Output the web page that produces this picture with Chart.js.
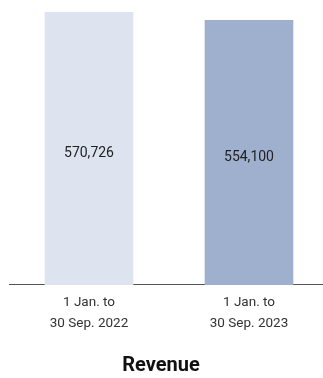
<!DOCTYPE html>
<html>
<head>
<meta charset="utf-8">
<script src="https://cdn.jsdelivr.net/npm/chart.js@4"></script>
<style>
html,body{margin:0;padding:0;background:#fff;overflow:hidden;width:323px;height:378px;}
#wrap{width:323px;height:378px;position:relative;overflow:hidden;}
#c{position:absolute;left:-7px;top:0;}
</style>
</head>
<body>
<div id="wrap"><canvas id="c" width="336" height="378"></canvas></div>
<script>
const categories = [["1 Jan. to","30 Sep. 2022"],["1 Jan. to","30 Sep. 2023"]];
const revenue = [570726, 554100];
const barColors = ["#dee4ef", "#9fb0ce"];
const chartTitle = "Revenue";

const valueLabels = {
  id: 'valueLabels',
  afterDatasetsDraw(chart) {
    const ctx = chart.ctx;
    const meta = chart.getDatasetMeta(0);
    ctx.save();
    ctx.font = '14px Roboto';
    ctx.fillStyle = '#222';
    ctx.textAlign = 'center';
    ctx.textBaseline = 'middle';
    meta.data.forEach((bar, i) => {
      const mid = (bar.y + bar.base) / 2 + 4.5;
      ctx.fillText(revenue[i].toLocaleString('en-US'), bar.x, mid);
    });
    ctx.restore();
  }
};

new Chart(document.getElementById('c'), {
  type: 'bar',
  data: {
    labels: categories,
    datasets: [{
      data: revenue,
      backgroundColor: barColors,
      borderWidth: 0,
      barPercentage: 0.554,
      categoryPercentage: 1
    }]
  },
  options: {
    responsive: false,
    animation: false,
    devicePixelRatio: 1,
    layout: { padding: 0 },
    plugins: {
      legend: { display: false },
      tooltip: { enabled: false },
      title: {
        display: true,
        text: chartTitle,
        position: 'bottom',
        color: '#111',
        font: { family: 'Roboto', size: 20, weight: 'bold' },
        padding: { top: 13, bottom: 0 }
      }
    },
    scales: {
      x: {
        grid: { display: false, drawTicks: false },
        border: { display: true, color: '#555', width: 1 },
        ticks: {
          color: '#333',
          font: { family: 'Roboto', size: 13.5, lineHeight: 1.556 },
          padding: 7,
          maxRotation: 0
        }
      },
      y: {
        display: true,
        min: 0,
        max: 596000,
        grid: { display: false, drawTicks: false },
        border: { display: false },
        ticks: { display: false },
        afterFit: s => { s.width = 16; }
      }
    }
  },
  plugins: [valueLabels]
});
</script>
</body>
</html>
